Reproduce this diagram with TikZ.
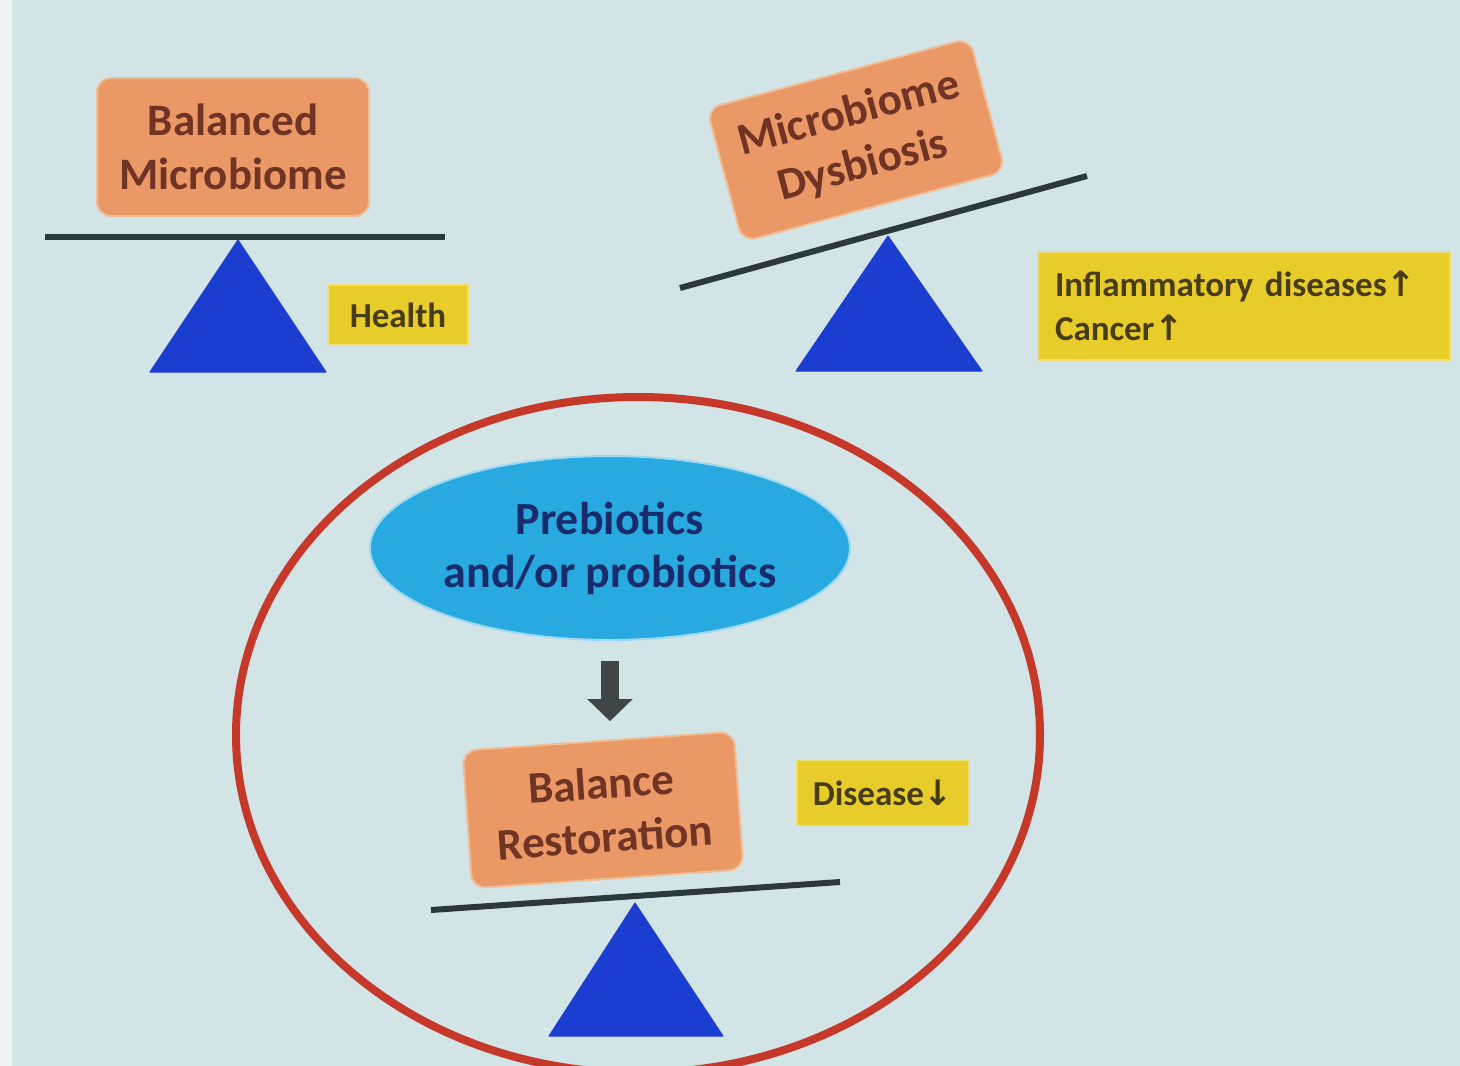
\documentclass[tikz,border=0pt]{standalone}
\usepackage{fontspec}
\setmainfont{Carlito}
\newfontfamily\symfont{DejaVu Sans}
\usetikzlibrary{shapes,arrows.meta,positioning}

\definecolor{slide}{RGB}{211,228,230}
\definecolor{strip}{RGB}{238,243,243}
\definecolor{boxfill}{RGB}{233,152,102}
\definecolor{boxedge}{RGB}{240,190,150}
\definecolor{boxtext}{RGB}{112,52,36}
\definecolor{tagfill}{RGB}{232,204,42}
\definecolor{tagedge}{RGB}{238,222,120}
\definecolor{tagtext}{RGB}{72,60,22}
\definecolor{beamcol}{RGB}{44,56,58}
\definecolor{pivotcol}{RGB}{28,62,208}
\definecolor{ringcol}{RGB}{198,56,42}
\definecolor{pillfill}{RGB}{40,170,224}
\definecolor{pilltext}{RGB}{24,44,108}
\definecolor{arrowcol}{RGB}{62,70,72}

\begin{document}
\begin{tikzpicture}[x=1pt,y=-1pt,
    box/.style={draw=boxedge, fill=boxfill, line width=2pt, rounded corners=14pt,
        minimum width=272pt, minimum height=138pt, align=center, text=boxtext,
        font=\bfseries\fontsize{45}{54}\selectfont},
    tag/.style={draw=tagedge, fill=tagfill, line width=1.5pt, inner sep=0pt,
        text=tagtext, font=\bfseries\fontsize{35}{44}\selectfont},
    beam/.style={draw=beamcol, line width=6pt},
    pivot/.style={fill=pivotcol, draw=pivotcol, line width=1pt, line join=round},
    flow/.style={draw=arrowcol, line width=18pt, -{Triangle[width=44pt,length=22pt]},
        shorten <=20pt, shorten >=19pt}]
    \useasboundingbox (0,0) rectangle (1460,1066);

    % Draw the slide
    \fill [slide] (0,0) rectangle (1460,1066);
    \fill [strip] (0,0) rectangle (12,1066);

    % Balanced scale
    \node [box] (bal) at (233,147) {Balanced\\Microbiome};
    \draw [beam] (45,237) -- (445,237);
    \fill [pivot] (238,240) -- (326,372) -- (150,372) -- cycle;
    \node [tag, minimum width=140pt, minimum height=60pt] (health) at (398,315) {Health};

    % Tilted scale
    \node [box, rotate=15] (dys) at (856,140) {Microbiome\\Dysbiosis};
    \draw [beam] (680,288) -- (1087,176);
    \fill [pivot] (888,236) -- (982,371) -- (796,371) -- cycle;
    \node [tag, minimum width=412pt, minimum height=108pt, text width=378pt, align=left]
        (ill) at (1244,306) {Inflammatory diseases{\symfont↑}\\Cancer{\symfont↑}};

    % Restored scale
    \draw [ringcol, line width=8pt] (638,735) ellipse [x radius=402pt, y radius=338pt];
    \node [ellipse, draw=pillfill!45, fill=pillfill, line width=2pt, inner sep=0pt,
        minimum width=480pt, minimum height=184pt, align=center, text=pilltext,
        font=\bfseries\fontsize{46}{53}\selectfont] (pre) at (610,548) {Prebiotics\\and/or probiotics};
    \node [box, rotate=4] (rest) at (603,810) {Balance\\Restoration};
    \draw [flow] (pre.south) -- (pre.south |- rest.north);
    \node [tag, minimum width=172pt, minimum height=65pt] (dis) at (883,793) {Disease{\symfont↓}};
    \draw [beam] (431,910) -- (840,882);
    \fill [pivot] (635,903) -- (723,1036) -- (549,1036) -- cycle;

\end{tikzpicture}
\end{document}
